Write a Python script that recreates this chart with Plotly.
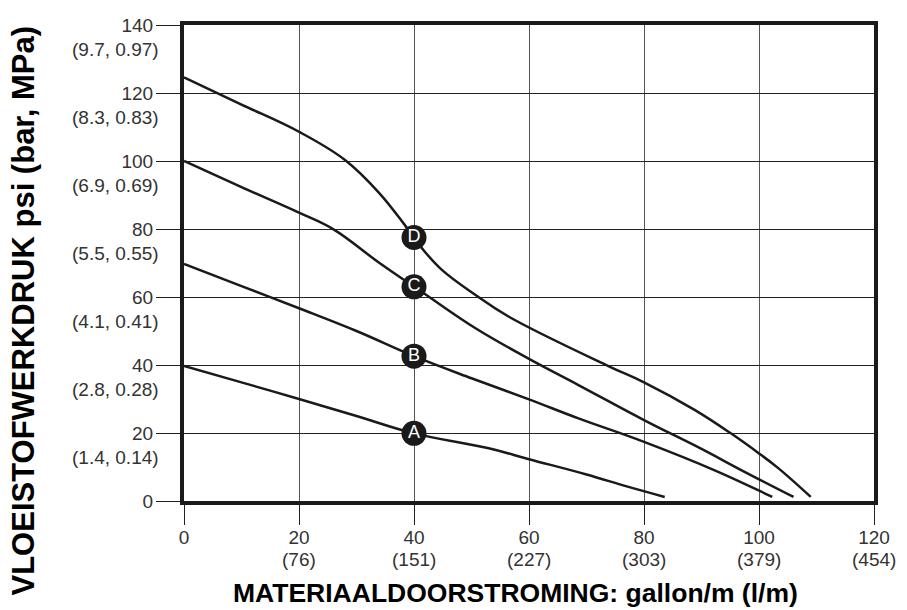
import plotly.graph_objects as go

# ---- data ----
curve_A_x = [0, 10, 20, 30, 40, 53, 60, 70, 77, 83.6]
curve_A_y = [39.7, 34.9, 30.0, 25.0, 19.9, 15.5, 12.3, 7.8, 4.3, 1.2]

curve_B_x = [0, 10, 20, 30, 40, 50, 60, 68.6, 80, 92.2, 102.3]
curve_B_y = [69.7, 63.2, 56.7, 50.0, 42.6, 36.1, 29.9, 24.3, 17.4, 9.1, 1.2]

curve_C_x = [0, 10, 20, 26, 34, 41.7, 50.7, 60, 68.6, 80, 90, 96.9, 106]
curve_C_y = [100, 92.3, 84.8, 79.9, 70.0, 61.1, 50.8, 41.8, 34.1, 23.8, 15.3, 9.1, 1.2]

curve_D_x = [0, 10, 20, 28, 34, 38.6, 41.4, 44.9, 50.7, 56.5, 73.8, 80, 88.8, 95.1, 100, 103.4, 109]
curve_D_y = [124.6, 116.6, 108.6, 100.3, 90.5, 80.7, 74.3, 67.9, 60.6, 54.2, 39.7, 34.9, 26.8, 19.9, 14.0, 9.6, 1.2]

marker_labels = ["A", "B", "C", "D"]
marker_x = [40, 40, 40, 40]
marker_y = [19.9, 42.6, 63.0, 77.5]

x_ticks = [0, 20, 40, 60, 80, 100, 120]
x_tick_lpm = ["", "(76)", "(151)", "(227)", "(303)", "(379)", "(454)"]

y_ticks = [0, 20, 40, 60, 80, 100, 120, 140]
y_tick_bar_mpa = ["", "(1.4, 0.14)", "(2.8, 0.28)", "(4.1, 0.41)", "(5.5, 0.55)",
                  "(6.9, 0.69)", "(8.3, 0.83)", "(9.7, 0.97)"]

x_title = "MATERIAALDOORSTROMING: gallon/m (l/m)"
y_title = "VLOEISTOFWERKDRUK psi (bar, MPa)"

FONT = "Liberation Sans, Arial, sans-serif"
TICK_COLOR = "#333333"
TICK_SIZE = 19

fig = go.Figure()

for xs, ys in [(curve_A_x, curve_A_y), (curve_B_x, curve_B_y),
               (curve_C_x, curve_C_y), (curve_D_x, curve_D_y)]:
    fig.add_trace(go.Scatter(x=xs, y=ys, mode="lines",
                             line=dict(color="#1a1a1a", width=2.5, shape="spline", smoothing=1.1),
                             hoverinfo="skip", showlegend=False))

fig.add_trace(go.Scatter(x=marker_x, y=marker_y, mode="markers+text",
                         text=marker_labels, textposition="middle center",
                         textfont=dict(color="white", size=18, family=FONT),
                         marker=dict(color="#1a1a1a", size=25, line=dict(width=0)),
                         showlegend=False, hoverinfo="skip"))

fig.update_xaxes(range=[0, 120], tickmode="array", tickvals=x_ticks,
                 ticktext=[str(v) for v in x_ticks],
                 ticks="outside", ticklen=20, tickwidth=1, tickcolor="#222",
                 ticklabelstandoff=-4,
                 showgrid=True, gridcolor="#555555", gridwidth=1, zeroline=False,
                 showline=True, linewidth=4, linecolor="#1a1a1a", mirror=True,
                 tickfont=dict(family=FONT, size=TICK_SIZE, color=TICK_COLOR))
fig.update_yaxes(range=[0, 140], tickmode="array", tickvals=y_ticks,
                 ticktext=[str(v) for v in y_ticks],
                 ticks="outside", ticklen=24, tickwidth=1, tickcolor="#222",
                 ticklabelstandoff=-1,
                 showgrid=True, gridcolor="#222222", gridwidth=1, zeroline=False,
                 showline=True, linewidth=4, linecolor="#1a1a1a", mirror=True,
                 tickfont=dict(family=FONT, size=TICK_SIZE, color=TICK_COLOR))

annotations = []
for v, s in zip(y_ticks, y_tick_bar_mpa):
    if s:
        annotations.append(dict(x=0, xref="paper", y=v, yref="y", text=s, showarrow=False,
                                xanchor="right", yanchor="middle", xshift=-23, yshift=-24,
                                font=dict(family=FONT, size=TICK_SIZE, color=TICK_COLOR)))
for v, s in zip(x_ticks, x_tick_lpm):
    if s:
        annotations.append(dict(x=v, xref="x", y=0, yref="paper", text=s, showarrow=False,
                                xanchor="center", yanchor="middle", yshift=-58,
                                font=dict(family=FONT, size=TICK_SIZE, color=TICK_COLOR)))

annotations.append(dict(x=0.481, xref="paper", y=-0.193, yref="paper", text=f"<b>{x_title}</b>",
                        showarrow=False, xanchor="center", yanchor="middle",
                        font=dict(family=FONT, size=26.5, color="black")))
annotations.append(dict(x=-0.232, xref="paper", y=0.40, yref="paper", text=f"<b>{y_title}</b>",
                        showarrow=False, xanchor="center", yanchor="middle", textangle=-90,
                        font=dict(family=FONT, size=31, color="black")))

fig.update_layout(width=907, height=610, margin=dict(l=184, r=33, t=25, b=109),
                  plot_bgcolor="white", paper_bgcolor="white",
                  annotations=annotations, showlegend=False)

fig.write_html("out.html")
